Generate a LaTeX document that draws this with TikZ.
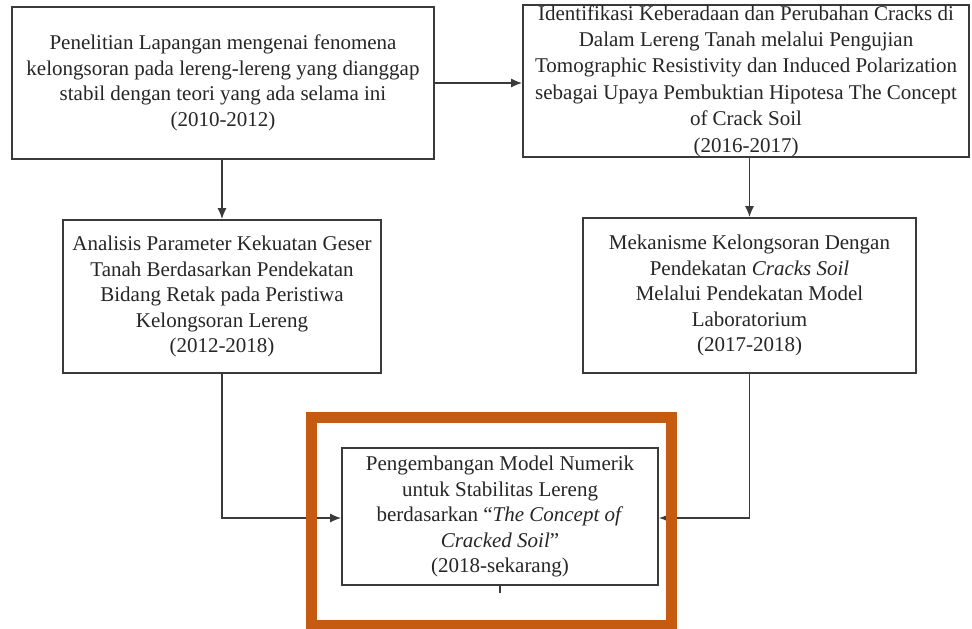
\documentclass[tikz,border=0pt]{standalone}
\usepackage{fontspec}
\setmainfont{Liberation Serif}
\usetikzlibrary{arrows.meta}
\definecolor{frameline}{HTML}{3A3A3A}
\definecolor{highlight}{HTML}{C55A11}
\begin{document}
\begin{tikzpicture}[x=1pt,y=-1pt,
  stage/.style={draw=frameline, line width=1.8pt, fill=white, align=center,
    inner sep=0pt, font=\fontsize{21}{25.5}\selectfont, text=black!85},
  link/.style={draw=frameline, line width=1.4pt,
    -{Latex[length=11pt,width=9pt]}}
]
\useasboundingbox (0,0) rectangle (972,629);
\fill[white] (0,0) rectangle (972,629);

% research stages
\node[stage, minimum width=422pt, minimum height=152pt] (s1) at (223,83)
  {Penelitian Lapangan mengenai fenomena\\
   kelongsoran pada lereng-lereng yang dianggap\\
   stabil dengan teori yang ada selama ini\\
   (2010-2012)};
\node[stage, minimum width=446pt, minimum height=152pt,
      font=\fontsize{21}{26.4}\selectfont] (s2) at (746,81)
  {Identifikasi Keberadaan dan Perubahan Cracks di\\
   Dalam Lereng Tanah melalui Pengujian\\
   Tomographic Resistivity dan Induced Polarization\\
   sebagai Upaya Pembuktian Hipotesa The Concept\\
   of Crack Soil\\
   (2016-2017)};
\node[stage, minimum width=318pt, minimum height=153pt] (s3) at (222,296.5)
  {Analisis Parameter Kekuatan Geser\\
   Tanah Berdasarkan Pendekatan\\
   Bidang Retak pada Peristiwa\\
   Kelongsoran Lereng\\
   (2012-2018)};
\node[stage, minimum width=333pt, minimum height=155pt] (s4) at (749.5,295.5)
  {Mekanisme Kelongsoran Dengan\\
   Pendekatan \textit{Cracks Soil}\\
   Melalui Pendekatan Model\\
   Laboratorium\\
   (2017-2018)};
\node[stage, minimum width=316pt, minimum height=137pt] (s5) at (500,516.5)
  {Pengembangan Model Numerik\\
   untuk Stabilitas Lereng\\
   berdasarkan “\textit{The Concept of}\\
   \textit{Cracked Soil}”\\
   (2018-sekarang)};

% connectors
\draw[link] (s1.east) -- (s1.east -| s2.west);
\draw[link] (s1.south -| s3.north) -- (s3.north);
\draw[link] (s2.south -| s4.north) -- (s4.north);
\draw[link] (s3.south) |- ([yshift=-1.5pt]s5.west);
\draw[link] (s4.south) |- ([yshift=-1.5pt]s5.east);
\coordinate (tail) at ([yshift=-7pt]s5.south);
\draw[frameline, line width=1.3pt] (s5.south) -- (tail);

% highlight frame
\draw[highlight, line width=11pt] (311.5,417.5) rectangle (671.5,625.5);
\end{tikzpicture}
\end{document}
